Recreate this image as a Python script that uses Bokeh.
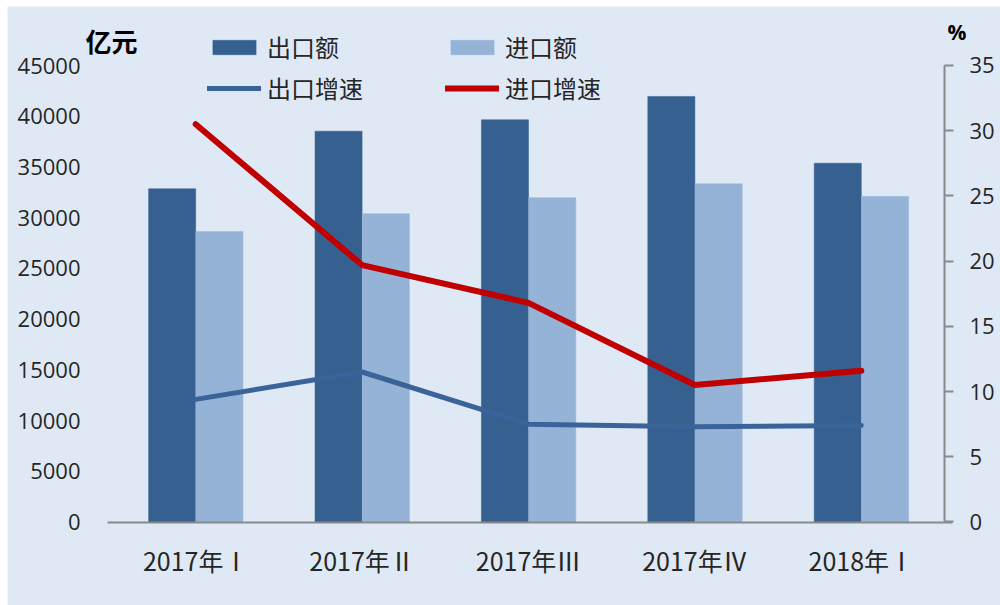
from bokeh.plotting import figure
from bokeh.models import (Range1d, LinearAxis, FixedTicker, Legend, LegendItem,
                          Label, ColumnDataSource, NumeralTickFormatter)
from bokeh.transform import dodge
from bokeh.embed import file_html
from bokeh.resources import INLINE

categories = ["2017年Ⅰ", "2017年Ⅱ", "2017年Ⅲ", "2017年Ⅳ", "2018年Ⅰ"]
export_value = [32850, 38530, 39650, 41950, 35370]
import_value = [28640, 30380, 31960, 33340, 32090]
export_growth = [9.4, 11.5, 7.5, 7.3, 7.4]
import_growth = [30.5, 19.7, 16.8, 10.5, 11.6]
left_ticks = [0, 5000, 10000, 15000, 20000, 25000, 30000, 35000, 40000, 45000]
right_ticks = [0, 5, 10, 15, 20, 25, 30, 35]

BG = "#DFE9F5"
EXP = "#36608F"
IMP = "#95B3D7"
RED = "#C00000"
AXIS = "#898989"
TXT = "#262626"
NUM_FONT = "Open Sans"
CJK = "Noto Sans CJK SC"

xpos = list(range(len(categories)))
src = ColumnDataSource(dict(x=xpos, exp=export_value, imp=import_value,
                            eg=export_growth, ig=import_growth))

# frame covers the whole figure; axes are pinned with fixed_location
p = figure(x_range=Range1d(-1.131, 4.8365), y_range=Range1d(-8231, 50816),
           width=993, height=599, output_backend="svg", toolbar_location=None,
           background_fill_color=BG, border_fill_color=BG, outline_line_color=None,
           min_border_left=0, min_border_right=0, min_border_top=0, min_border_bottom=0)
p.margin = (6, 0, 0, 7)
p.extra_y_ranges = {"pct": Range1d(-6.402, 39.523)}

p.xgrid.visible = False
p.ygrid.visible = False

# left axis
la = p.yaxis[0]
la.fixed_location = -0.5
la.bounds = (0, 45000)
la.ticker = FixedTicker(ticks=left_ticks)
la.formatter = NumeralTickFormatter(format="0")
la.axis_line_color = None
la.major_tick_line_color = None
la.minor_tick_line_color = None
la.major_tick_out = 0
la.major_label_standoff = 32
la.major_label_text_font = NUM_FONT
la.major_label_text_font_size = "22px"
la.major_label_text_color = TXT

# bottom axis
xa = p.xaxis[0]
xa.fixed_location = 0
xa.bounds = (-0.53, 4.55)
xa.ticker = FixedTicker(ticks=xpos)
xa.major_label_overrides = {i: c for i, c in zip(xpos, categories)}
xa.axis_line_color = AXIS
xa.axis_line_width = 2
xa.major_tick_line_color = None
xa.minor_tick_line_color = None
xa.major_tick_out = 0
xa.major_label_standoff = 20
xa.major_label_text_font = CJK
xa.major_label_text_font_size = "25px"
xa.major_label_text_color = TXT

# right axis
ra = LinearAxis(y_range_name="pct", ticker=FixedTicker(ticks=right_ticks))
ra.fixed_location = 4.5
ra.bounds = (0, 35)
ra.axis_line_color = AXIS
ra.axis_line_width = 2
ra.major_tick_line_color = AXIS
ra.major_tick_line_width = 2
ra.major_tick_in = 0
ra.major_tick_out = 9
ra.minor_tick_line_color = None
ra.major_label_standoff = 16
ra.major_label_text_font = NUM_FONT
ra.major_label_text_font_size = "22px"
ra.major_label_text_color = TXT
p.add_layout(ra, "right")

b1 = p.vbar(x=dodge("x", -0.1415), top="exp", bottom=0, width=0.283, source=src,
            fill_color=EXP, line_color=EXP, line_width=0.5)
b2 = p.vbar(x=dodge("x", 0.1425), top="imp", bottom=0, width=0.283, source=src,
            fill_color=IMP, line_color=IMP, line_width=0.5)
l1 = p.line(x="x", y="eg", source=src, y_range_name="pct", line_color="#3A6499",
            line_width=5, line_cap="round", line_join="round")
l2 = p.line(x="x", y="ig", source=src, y_range_name="pct", line_color=RED,
            line_width=6, line_cap="round", line_join="round")

def make_legend(items, loc, gh):
    return Legend(items=items, orientation="horizontal", location=loc,
                  background_fill_alpha=0, border_line_color=None, padding=0, margin=0,
                  spacing=0, glyph_width=54, glyph_height=gh, label_standoff=6,
                  label_width=178, label_height=24,
                  label_text_font=CJK, label_text_font_size="24px", label_text_color=TXT)

leg1 = make_legend([LegendItem(label="出口额", renderers=[b1]),
                    LegendItem(label="进口额", renderers=[b2])], (200, 541), 18)
leg2 = make_legend([LegendItem(label="出口增速", renderers=[l1]),
                    LegendItem(label="进口增速", renderers=[l2])], (200, 500), 16)
p.add_layout(leg1, "center")
p.add_layout(leg2, "center")

t1 = Label(x=78, y=565, x_units="screen", y_units="screen", text="亿元",
           text_font=CJK, text_font_size="26px", text_font_style="bold",
           text_color="#000000", text_baseline="middle")
t2 = Label(x=940, y=574, x_units="screen", y_units="screen", text="%",
           text_font=NUM_FONT, text_font_size="21px", text_font_style="bold",
           text_color="#000000", text_baseline="middle")
p.add_layout(t1)
p.add_layout(t2)

open("out.html", "w").write(file_html(p, INLINE))
